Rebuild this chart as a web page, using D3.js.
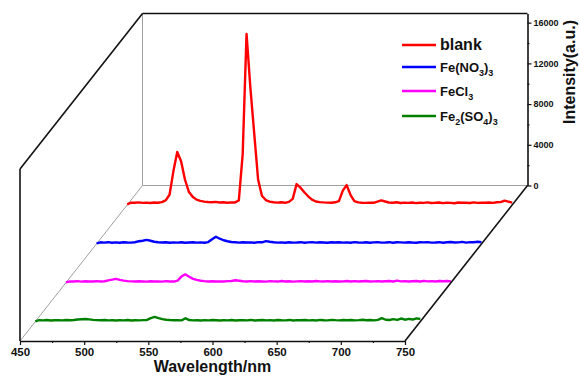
<!DOCTYPE html>
<html>
<head>
<meta charset="utf-8">
<script src="https://cdn.jsdelivr.net/npm/d3@7"></script>
<style>
body { margin: 0; background: #fff; }
text { font-family: "Liberation Sans", Arial, sans-serif; font-weight: bold; }
</style>
</head>
<body>
<div id="chart"></div>
<script>
// wavelength grid (nm)
var wavelength = [450,453,456,459,462,465,468,471,474,477,
    480,483,486,489,492,495,498,501,504,507,
    510,513,516,519,522,525,528,531,534,537,
    540,543,546,549,552,555,558,561,564,567,
    570,573,576,579,582,585,588,591,594,597,
    600,603,606,609,612,615,618,621,624,627,
    630,633,636,639,642,645,648,651,654,657,
    660,663,666,669,672,675,678,681,684,687,
    690,693,696,699,702,705,708,711,714,717,
    720,723,726,729,732,735,738,741,744,747,
    750];

// intensities (a.u.)
var blank = [60,230,210,250,200,230,190,240,220,280,
    450,1000,3300,5200,4300,2500,1300,800,520,400,
    330,290,260,300,240,270,220,250,240,450,
    5000,16800,11500,7000,2500,900,480,330,260,230,
    260,210,300,600,2050,1700,1250,850,520,340,
    280,250,230,220,260,380,1400,1950,1000,380,
    250,220,200,230,210,330,450,340,240,210,
    260,190,230,200,240,180,220,200,250,190,
    210,240,180,230,200,170,240,210,220,190,
    250,200,230,210,240,200,260,280,420,330,
    230];
var feNO3 = [40,150,120,160,110,140,100,150,130,120,
    160,250,300,380,300,200,160,130,150,110,
    140,120,150,100,130,160,120,140,110,170,
    450,700,500,350,250,180,150,120,160,130,
    140,110,160,150,260,200,150,120,140,110,
    150,120,130,160,110,140,170,120,150,130,
    110,150,130,160,120,140,110,170,130,120,
    150,110,140,170,120,130,160,110,150,140,
    120,160,130,110,150,140,170,120,130,160,
    110,150,180,130,140,190,120,170,150,200,
    160];
var feCl3 = [30,130,110,150,100,140,120,110,150,120,
    140,220,300,370,280,200,150,130,110,140,
    120,100,140,110,130,100,150,120,110,200,
    600,820,580,380,270,190,150,120,140,110,
    130,120,150,170,240,190,140,120,150,110,
    140,120,100,150,130,110,160,120,140,100,
    130,150,110,140,120,160,130,110,150,120,
    140,110,130,160,120,150,110,140,170,120,
    130,150,110,140,160,120,200,130,150,110,
    140,160,120,180,130,150,120,170,140,160,
    130];
var fe2SO4 = [20,140,120,150,110,130,140,120,150,130,
    160,200,230,250,210,170,140,130,150,120,
    130,110,140,120,150,110,130,120,140,160,
    330,460,340,240,180,150,130,140,120,320,
    150,120,130,110,140,120,150,130,110,140,
    120,150,110,130,140,120,160,110,130,150,
    120,140,110,150,130,120,160,110,140,130,
    150,120,140,110,160,130,120,170,140,120,
    150,130,160,120,140,180,130,150,120,170,
    340,180,150,240,160,300,180,260,200,320,
    250];

var seriesNames = ["blank", "Fe(NO3)3", "FeCl3", "Fe2(SO4)3"];
var legendLabels = ["blank", "Fe(NO_3)_3", "FeCl_3", "Fe_2(SO_4)_3"];
var seriesColors = ["#ff0000", "#0000ff", "#ff00ff", "#008000"];
var seriesValues = [blank, feNO3, feCl3, fe2SO4];

var xTicks = [450, 500, 550, 600, 650, 700, 750];
var xMinorTicks = [475, 525, 575, 625, 675, 725];
var yTicks = [0, 4000, 8000, 12000, 16000];
var yMinorTicks = [2000, 6000, 10000, 14000];

var width = 579, height = 376;

var svg = d3.select("#chart")
    .append("svg")
    .attr("width", width)
    .attr("height", height);

var x = d3.scaleLinear().domain([450, 750]).range([20, 405]);
var y = d3.scaleLinear().domain([0, 16900]).range([341, 169]);
// depth axis: 0 = front plane, 1 = back plane
var z = d3.scaleBand().domain(seriesNames.slice().reverse()).range([0, 1]);
var depthX = d3.scaleLinear().domain([0, 1]).range([0, 122.5]);
var depthY = d3.scaleLinear().domain([0, 1]).range([0, -155.5]);

var x0 = x.range()[0], x1 = x.range()[1];
var yb = y.range()[0], yt = y.range()[1];
var bx = depthX(1), by = depthY(1);

function seg(x1_, y1_, x2_, y2_, col, w) {
    svg.append("line")
        .attr("x1", x1_).attr("y1", y1_)
        .attr("x2", x2_).attr("y2", y2_)
        .attr("stroke", col)
        .attr("stroke-width", w);
}

// hidden (grey) edges of the box
seg(x0, yb, x0 + bx, yb + by, "#a0a0a0", 1);
seg(x0 + bx, yb + by, x0 + bx, yt + by, "#a0a0a0", 1);
seg(x0 + bx, yb + by, x1 + bx, yb + by, "#a0a0a0", 1);

// spectra, back to front
seriesValues.forEach(function (vals, i) {
    var t = z(seriesNames[i]) + z.bandwidth() / 2;
    var line = d3.line()
        .x(function (d, j) { return x(wavelength[j]) + depthX(t); })
        .y(function (d) { return y(d) + depthY(t); });
    svg.append("path")
        .datum(vals)
        .attr("fill", "none")
        .attr("stroke", seriesColors[i])
        .attr("stroke-width", 2.4)
        .attr("stroke-linejoin", "round")
        .attr("d", line);
});

// black edges
seg(x0, yb, x0, yt, "#111", 1.6);
seg(x0, yt, x0 + bx, yt + by, "#111", 1.6);
seg(x0 + bx, yt + by, x1 + bx, yt + by, "#111", 1.6);
seg(x1, yb, x1 + bx, yb + by, "#111", 1.6);

// bottom axis
var gx = svg.append("g")
    .attr("transform", "translate(0," + yb + ")")
    .call(d3.axisBottom(x).tickValues(xTicks).tickSize(4).tickSizeOuter(0).tickPadding(3).tickFormat(d3.format("d")));
gx.selectAll("text").attr("font-size", 11.5).attr("fill", "#111");
svg.append("g")
    .attr("transform", "translate(0," + yb + ")")
    .call(d3.axisBottom(x).tickValues(xMinorTicks).tickSize(2).tickFormat(""))
    .select(".domain").remove();

// right (back) axis
var gy = svg.append("g")
    .attr("transform", "translate(" + (x1 + bx) + "," + by + ")")
    .call(d3.axisRight(y).tickValues(yTicks).tickSize(4).tickSizeOuter(0).tickPadding(2).tickFormat(d3.format("d")));
gy.selectAll("text").attr("font-size", 9).attr("fill", "#111");
svg.append("g")
    .attr("transform", "translate(" + (x1 + bx) + "," + by + ")")
    .call(d3.axisRight(y).tickValues(yMinorTicks).tickSize(2).tickFormat(""))
    .select(".domain").remove();

svg.selectAll("g text").attr("font-family", null);
svg.selectAll(".domain").attr("stroke", "#111").attr("stroke-width", 1.6);
svg.selectAll(".tick line").attr("stroke", "#111").attr("stroke-width", 1.2);

// axis titles
svg.append("text")
    .attr("x", (x0 + x1) / 2)
    .attr("y", 372)
    .attr("text-anchor", "middle")
    .attr("font-size", 16)
    .attr("fill", "#111")
    .text("Wavelength/nm");

svg.append("text")
    .attr("transform", "translate(575,72) rotate(-90)")
    .attr("text-anchor", "middle")
    .attr("font-size", 16)
    .attr("fill", "#111")
    .text("Intensity(a.u.)");

// legend
var legendY = [45, 67, 91, 116];
legendLabels.forEach(function (lab, i) {
    seg(402, legendY[i], 436, legendY[i], seriesColors[i], 2.5);
    var big = i === 0 ? 16 : 13;
    var txt = svg.append("text")
        .attr("x", 440)
        .attr("y", legendY[i] + 5)
        .attr("font-size", big)
        .attr("fill", "#111");
    // "_" marks a subscript digit
    var parts = lab.split(/(_\d)/);
    var shifted = false;
    parts.forEach(function (p) {
        if (p === "") return;
        if (p.charAt(0) === "_") {
            txt.append("tspan").attr("dy", shifted ? 0 : 4).attr("font-size", 9).text(p.slice(1));
            shifted = true;
        } else {
            txt.append("tspan").attr("dy", shifted ? -4 : 0).text(p);
            shifted = false;
        }
    });
});
</script>
</body>
</html>
